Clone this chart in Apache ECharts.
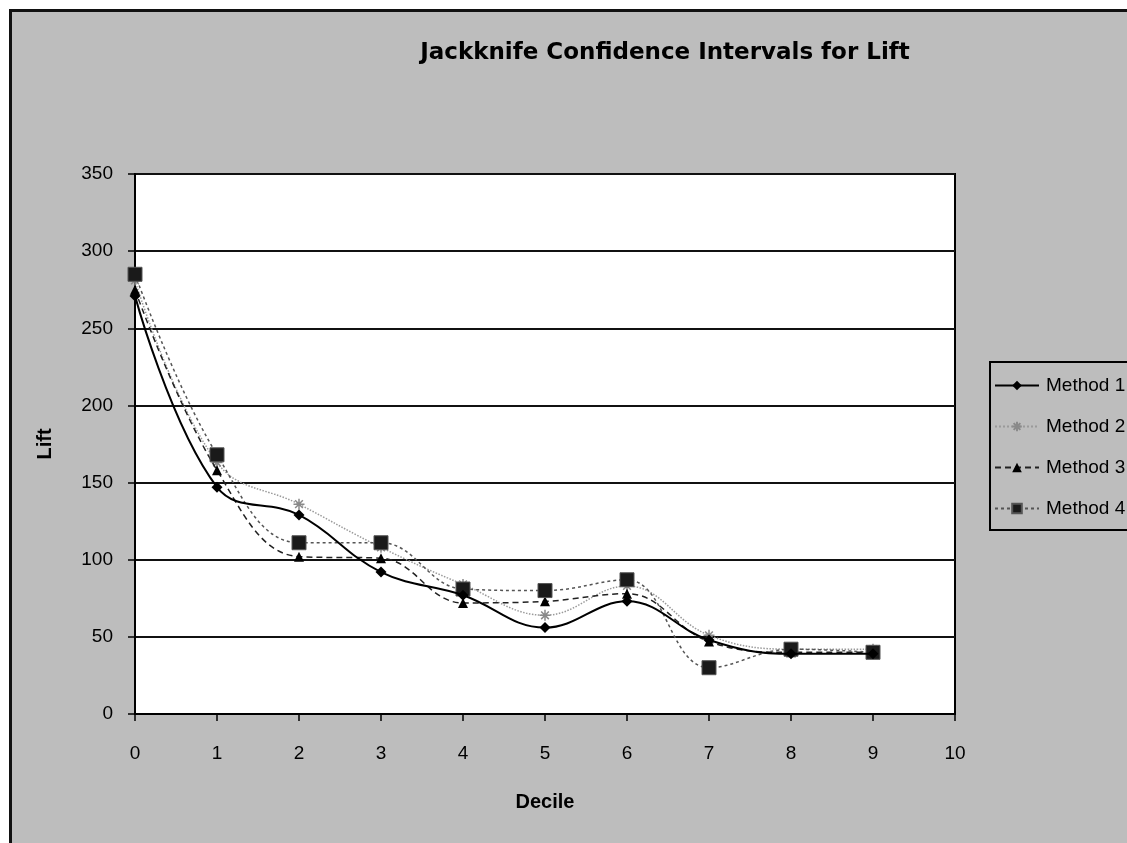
<!DOCTYPE html>
<html>
<head>
<meta charset="utf-8">
<script src="https://cdn.jsdelivr.net/npm/echarts@6/dist/echarts.min.js"></script>
<style>
	html, body { margin: 0; padding: 0; background: #fff; overflow: hidden; }
	#frame { position: absolute; left: 9px; top: 9px; width: 1200px; height: 900px; background: #bdbdbd; border-top: 3px solid #111; border-left: 3px solid #111; }
	#main { position: absolute; left: 0; top: 0; width: 1127px; height: 843px; }
</style>
</head>
<body>
<div id="frame"></div>
<div id="main"></div>
<script>
	// 数据
	var deciles = [0, 1, 2, 3, 4, 5, 6, 7, 8, 9];
	var method1 = [271, 147, 129, 92, 77, 56, 73, 48, 39, 39];
	var method2 = [281, 163, 136, 108, 84, 64, 83, 51, 42, 42];
	var method3 = [275, 158, 102, 101, 72, 73, 78, 47, 40, 40];
	var method4 = [285, 168, 111, 111, 81, 80, 87, 30, 42, 40];
	var seriesNames = ['Method 1', 'Method 2', 'Method 3', 'Method 4'];
	var yTicks = [0, 50, 100, 150, 200, 250, 300, 350];
	var xTicks = [0, 1, 2, 3, 4, 5, 6, 7, 8, 9, 10];

	function pairs(values) {
		return deciles.map(function (d, i) { return [d, values[i]]; });
	}

	var font = '"Liberation Sans", Arial, sans-serif';
	var boldFont = '"DejaVu Sans", "Liberation Sans", sans-serif';
	var asterisk = 'path://M5 0 L5 10 M0 5 L10 5 M1.5 1.5 L8.5 8.5 M8.5 1.5 L1.5 8.5';

	var myChart = echarts.init(document.getElementById('main'));
	myChart.setOption({
		backgroundColor: 'transparent',
		animation: false,
		title: {
			text: 'Jackknife Confidence Intervals for Lift',
			left: 660,
			top: 37,
			textAlign: 'center',
			textStyle: { fontFamily: boldFont, fontSize: 23, fontWeight: 'bold', color: '#000' }
		},
		legend: {
			orient: 'vertical',
			left: 990,
			top: 362,
			data: seriesNames,
			backgroundColor: '#bdbdbd',
			borderColor: '#000',
			borderWidth: 2,
			padding: [14, 40, 12, 4],
			itemWidth: 44,
			itemHeight: 12,
			itemGap: 22,
			textStyle: { fontFamily: font, fontSize: 19, color: '#000', padding: [0, 0, 0, 2] }
		},
		grid: {
			left: 135,
			right: 172,
			top: 174,
			bottom: 129,
			show: true,
			backgroundColor: '#fff',
			borderColor: '#000',
			borderWidth: 2
		},
		xAxis: {
			type: 'value',
			min: xTicks[0],
			max: xTicks[xTicks.length - 1],
			interval: 1,
			name: 'Decile',
			nameLocation: 'middle',
			nameGap: 78,
			nameTextStyle: { fontFamily: font, fontSize: 20, fontWeight: 'bold', color: '#000' },
			axisLine: { lineStyle: { color: '#000', width: 2 } },
			axisTick: { show: true, inside: false, length: 7, lineStyle: { color: '#000', width: 1.5 } },
			axisLabel: { fontFamily: font, fontSize: 19, color: '#000', margin: 30 },
			splitLine: { show: false }
		},
		yAxis: {
			type: 'value',
			min: yTicks[0],
			max: yTicks[yTicks.length - 1],
			interval: 50,
			name: 'Lift',
			nameLocation: 'middle',
			nameGap: 80,
			nameRotate: 90,
			nameTextStyle: { fontFamily: font, fontSize: 20, fontWeight: 'bold', color: '#000' },
			axisLine: { show: true, lineStyle: { color: '#000', width: 2 } },
			axisTick: { show: true, inside: false, length: 7, lineStyle: { color: '#000', width: 1.5 } },
			axisLabel: { fontFamily: font, fontSize: 19, color: '#000', margin: 22 },
			splitLine: { show: true, lineStyle: { color: '#111', width: 2 } }
		},
		series: [
			{
				name: seriesNames[0],
				type: 'line',
				smooth: 0.4,
				data: pairs(method1),
				symbol: 'diamond',
				symbolSize: 11,
				lineStyle: { color: '#000', width: 2 },
				itemStyle: { color: '#000' },
				z: 5
			},
			{
				name: seriesNames[1],
				type: 'line',
				smooth: 0.4,
				data: pairs(method2),
				symbol: asterisk,
				symbolSize: 11,
				lineStyle: { color: '#9a9a9a', width: 1.5, type: 'dotted' },
				itemStyle: { color: '#8a8a8a', borderColor: '#8a8a8a', borderWidth: 1.5 },
				z: 3
			},
			{
				name: seriesNames[2],
				type: 'line',
				smooth: 0.4,
				data: pairs(method3),
				symbol: 'triangle',
				symbolSize: 10,
				lineStyle: { color: '#222', width: 1.5, type: [6, 4] },
				itemStyle: { color: '#000' },
				z: 4
			},
			{
				name: seriesNames[3],
				type: 'line',
				smooth: 0.4,
				data: pairs(method4),
				symbol: 'rect',
				symbolSize: 14,
				lineStyle: { color: '#555', width: 1.5, type: [3, 3] },
				itemStyle: { color: '#1a1a1a', borderColor: '#555', borderWidth: 1 },
				z: 4
			}
		]
	});
</script>
</body>
</html>
